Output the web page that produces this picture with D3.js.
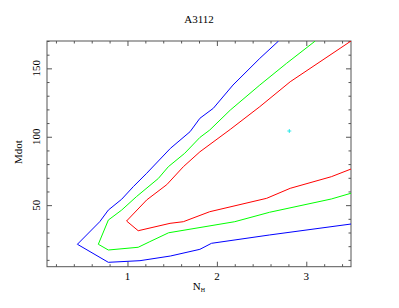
<!DOCTYPE html>
<html>
<head>
<meta charset="utf-8">
<script src="https://cdn.jsdelivr.net/npm/d3@7"></script>
<style>
  body { margin: 0; background: #fff; }
</style>
</head>
<body>
<div id="chart"></div>
<script>
// Contour levels (NH, Mdot)
const blueContour = [
    [2.69, 170], [2.48, 157.3], [2.18, 137.8], [1.96, 120.8], [1.81, 113.5],
    [1.70, 103.7], [1.48, 91.5], [1.215, 73.3], [1.065, 63.5], [0.935, 54.3],
    [0.786, 46.4], [0.69, 37.9], [0.44, 21.4], [0.786, 8.2], [1.14, 9.4],
    [1.48, 12.8], [1.81, 17.7], [1.94, 22.1], [2.59, 28.2], [3.5, 36.2]
];
const greenContour = [
    [3.10, 170], [2.78, 153.7], [2.48, 137.8], [2.15, 119.5], [1.92, 104.9],
    [1.81, 99.5], [1.64, 87.9], [1.457, 78.1], [1.345, 69.5], [1.10, 56.2],
    [0.935, 46.4], [0.786, 39.1], [0.674, 21.4], [0.786, 17.2], [1.12, 19.2],
    [1.25, 23.3], [1.46, 29.8], [2.20, 37.9], [2.59, 44.8], [3.28, 54.5], [3.5, 58.7]
];
const redContour = [
    [3.5, 170], [2.82, 140.2], [2.48, 122], [2.15, 105.4], [1.81, 89],
    [1.625, 78.1], [1.44, 65], [1.215, 53.8], [0.99, 38.4], [1.12, 31.3],
    [1.476, 36.7], [1.625, 37.9], [1.92, 45.2], [2.557, 55], [2.82, 62.3],
    [3.28, 70.8], [3.5, 76.4]
];
const bestFit = [2.81, 104.2];

const xDomain = [0.1, 3.5];
const yDomain = [5, 170];
const xMajor = [1, 2, 3];
const yMajor = [50, 100, 150];

const TITLE = "A3112";
const Y_LABEL = "Mdot";

const FONT = "'Liberation Serif', 'Times New Roman', serif";
const width = 399, height = 308;
const margin = { top: 41, right: 48, bottom: 41.3, left: 47 };
const innerW = width - margin.left - margin.right;
const innerH = height - margin.top - margin.bottom;
const AXIS_COLOR = "#555";

const svg = d3.select("#chart").append("svg")
    .attr("width", width)
    .attr("height", height)
    .attr("font-family", FONT);

const g = svg.append("g")
    .attr("transform", `translate(${margin.left},${margin.top})`);

const x = d3.scaleLinear().domain(xDomain).range([0, innerW]);
const y = d3.scaleLinear().domain(yDomain).range([innerH, 0]);

g.append("clipPath").attr("id", "clip")
    .append("rect").attr("width", innerW).attr("height", innerH);

// Minor ticks every 0.2 / 10
const xMinor = d3.range(0.2, 3.5001, 0.2).map(v => +v.toFixed(2)).filter(v => !xMajor.includes(v));
const yMinor = d3.range(10, 170.001, 10).filter(v => !yMajor.includes(v));

function drawTicks(axisGen, transform) {
    g.append("g")
        .attr("transform", transform)
        .call(axisGen)
        .call(s => s.select(".domain").remove())
        .call(s => s.selectAll("line").attr("stroke", AXIS_COLOR))
        .call(s => s.selectAll("text").remove());
}

// inward ticks on all four sides
drawTicks(d3.axisBottom(x).tickValues(xMajor).tickSize(-5), `translate(0,${innerH})`);
drawTicks(d3.axisBottom(x).tickValues(xMinor).tickSize(-2.5), `translate(0,${innerH})`);
drawTicks(d3.axisTop(x).tickValues(xMajor).tickSize(-5), "translate(0,0)");
drawTicks(d3.axisTop(x).tickValues(xMinor).tickSize(-2.5), "translate(0,0)");
drawTicks(d3.axisLeft(y).tickValues(yMajor).tickSize(-5), "translate(0,0)");
drawTicks(d3.axisLeft(y).tickValues(yMinor).tickSize(-2.5), "translate(0,0)");
drawTicks(d3.axisRight(y).tickValues(yMajor).tickSize(-5), `translate(${innerW},0)`);
drawTicks(d3.axisRight(y).tickValues(yMinor).tickSize(-2.5), `translate(${innerW},0)`);

g.append("rect")
    .attr("width", innerW)
    .attr("height", innerH)
    .attr("fill", "none")
    .attr("stroke", AXIS_COLOR)
    .attr("stroke-width", 1);

// Tick labels
g.selectAll(".xlab").data(xMajor).enter().append("text")
    .attr("class", "xlab")
    .attr("x", d => x(d))
    .attr("y", innerH + 13)
    .attr("text-anchor", "middle")
    .attr("font-family", FONT)
    .attr("font-size", 11)
    .text(d => d);

g.selectAll(".ylab").data(yMajor).enter().append("text")
    .attr("class", "ylab")
    .attr("transform", d => `translate(-7,${y(d)}) rotate(-90)`)
    .attr("text-anchor", "middle")
    .attr("font-family", FONT)
    .attr("font-size", 11)
    .text(d => d);

// Contours
const line = d3.line().x(d => x(d[0])).y(d => y(d[1]));
const contours = [
    { data: blueContour, color: "#0000ff" },
    { data: greenContour, color: "#00ff00" },
    { data: redContour, color: "#ff0000" }
];
g.append("g").attr("clip-path", "url(#clip)")
    .selectAll("path").data(contours).enter().append("path")
    .attr("d", d => line(d.data))
    .attr("fill", "none")
    .attr("stroke", d => d.color)
    .attr("stroke-width", 1);

// Best fit marker
const bx = x(bestFit[0]), by = y(bestFit[1]);
g.append("path")
    .attr("d", `M${bx - 2},${by}H${bx + 2}M${bx},${by - 2}V${by + 2}`)
    .attr("stroke", "#00e5e5")
    .attr("stroke-width", 0.8);

// Title and axis labels
svg.append("text")
    .attr("x", 199)
    .attr("y", 23)
    .attr("text-anchor", "middle")
    .attr("font-family", FONT)
    .attr("font-size", 11)
    .text(TITLE);

svg.append("text")
    .attr("transform", "translate(22,152) rotate(-90)")
    .attr("text-anchor", "middle")
    .attr("font-family", FONT)
    .attr("font-size", 11)
    .text(Y_LABEL);

const xl = svg.append("text")
    .attr("x", 199)
    .attr("y", 290)
    .attr("text-anchor", "middle")
    .attr("font-family", FONT)
    .attr("font-size", 11);
xl.append("tspan").text("N");
xl.append("tspan").attr("font-size", 6).attr("dy", 2).text("H");
</script>
</body>
</html>
